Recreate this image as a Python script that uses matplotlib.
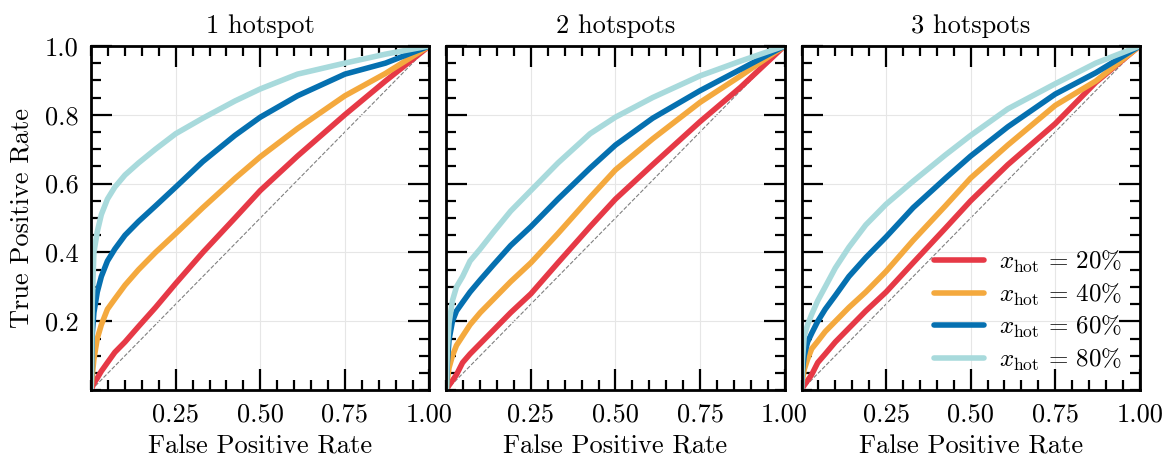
import matplotlib
matplotlib.use('Agg')
import matplotlib.pyplot as plt
from matplotlib.ticker import FixedLocator, MultipleLocator

plt.rcParams['font.family'] = ['cmr10', 'DejaVu Serif']
plt.rcParams['mathtext.fontset'] = 'cm'
plt.rcParams['axes.formatter.use_mathtext'] = True
plt.rcParams['font.size'] = 19

titles = ['1 hotspot', '2 hotspots', '3 hotspots']
labels = [r'$x_{\rm hot}\,=\,20\%$', r'$x_{\rm hot}\,=\,40\%$',
          r'$x_{\rm hot}\,=\,60\%$', r'$x_{\rm hot}\,=\,80\%$']
colors = ['#e63946', '#f4a93e', '#0570b0', '#a8dadc']

# false positive rate grid
fpr = [0.0, 0.003, 0.008, 0.018, 0.03, 0.048, 0.07, 0.1, 0.14, 0.19,
       0.25, 0.33, 0.425, 0.5, 0.61, 0.75, 0.87, 1.0]

# 1 hotspot
tpr1_20 = [0, 0.008, 0.02, 0.035, 0.055, 0.08, 0.11, 0.14, 0.185, 0.24,
           0.31, 0.40, 0.50, 0.58, 0.68, 0.80, 0.898, 1.0]
tpr1_40 = [0, 0.04, 0.09, 0.15, 0.19, 0.235, 0.265, 0.305, 0.35, 0.40,
           0.455, 0.53, 0.615, 0.678, 0.76, 0.855, 0.92, 1.0]
tpr1_60 = [0, 0.16, 0.225, 0.285, 0.33, 0.375, 0.41, 0.45, 0.49, 0.535,
           0.59, 0.664, 0.74, 0.793, 0.855, 0.918, 0.95, 1.0]
tpr1_80 = [0, 0.25, 0.40, 0.46, 0.51, 0.555, 0.59, 0.625, 0.66, 0.70,
           0.745, 0.79, 0.84, 0.875, 0.918, 0.95, 0.976, 1.0]

# 2 hotspots
tpr2_20 = [0, 0.006, 0.014, 0.028, 0.045, 0.08, 0.105, 0.135, 0.175, 0.225,
           0.28, 0.37, 0.475, 0.555, 0.655, 0.78, 0.88, 1.0]
tpr2_40 = [0, 0.03, 0.065, 0.1, 0.13, 0.157, 0.19, 0.225, 0.265, 0.315,
           0.37, 0.455, 0.56, 0.64, 0.73, 0.836, 0.913, 1.0]
tpr2_60 = [0, 0.08, 0.147, 0.20, 0.23, 0.255, 0.285, 0.32, 0.365, 0.42,
           0.475, 0.555, 0.645, 0.712, 0.79, 0.87, 0.932, 1.0]
tpr2_80 = [0, 0.12, 0.195, 0.26, 0.30, 0.33, 0.375, 0.41, 0.46, 0.52,
           0.58, 0.66, 0.745, 0.793, 0.85, 0.913, 0.956, 1.0]

# 3 hotspots
tpr3_20 = [0, 0.006, 0.014, 0.028, 0.045, 0.08, 0.105, 0.14, 0.18, 0.23,
           0.285, 0.37, 0.47, 0.55, 0.655, 0.774, 0.894, 1.0]
tpr3_40 = [0, 0.03, 0.06, 0.09, 0.12, 0.142, 0.17, 0.2, 0.24, 0.285,
           0.345, 0.435, 0.535, 0.616, 0.712, 0.827, 0.898, 1.0]
tpr3_60 = [0, 0.06, 0.1, 0.14, 0.165, 0.2, 0.235, 0.275, 0.33, 0.385,
           0.445, 0.53, 0.615, 0.68, 0.765, 0.86, 0.922, 1.0]
tpr3_80 = [0, 0.09, 0.157, 0.19, 0.22, 0.26, 0.30, 0.355, 0.415, 0.48,
           0.54, 0.607, 0.683, 0.74, 0.817, 0.89, 0.95, 1.0]

paneles = [
    [tpr1_20, tpr1_40, tpr1_60, tpr1_80],
    [tpr2_20, tpr2_40, tpr2_60, tpr2_80],
    [tpr3_20, tpr3_40, tpr3_60, tpr3_80],
]

fig, axes = plt.subplots(1, 3, figsize=(11.69, 4.59), dpi=100)
fig.subplots_adjust(left=0.078, right=0.975, bottom=0.15, top=0.9, wspace=0.05)

for i, ax in enumerate(axes):
    ax.plot([0, 1], [0, 1], ls='--', color='gray', lw=0.8, zorder=1)
    for curva, c, lab in zip(paneles[i], colors, labels):
        ax.plot(fpr, curva, color=c, lw=4.0, label=lab, solid_capstyle='round',
                solid_joinstyle='round', zorder=2)

    ax.set_xlim(0, 1)
    ax.set_ylim(0, 1)
    ax.set_title(titles[i], fontsize=19, pad=9)
    ax.set_xlabel('False Positive Rate', fontsize=19, labelpad=6)

    ax.xaxis.set_major_locator(FixedLocator([0.25, 0.5, 0.75, 1.0]))
    ax.set_xticklabels(['0.25', '0.50', '0.75', '1.00'])
    ax.yaxis.set_major_locator(FixedLocator([0.2, 0.4, 0.6, 0.8, 1.0]))
    ax.xaxis.set_minor_locator(MultipleLocator(0.05))
    ax.yaxis.set_minor_locator(MultipleLocator(0.05))
    if i == 0:
        ax.set_yticklabels(['0.2', '0.4', '0.6', '0.8', '1.0'])
        ax.set_ylabel('True Positive Rate', fontsize=19, labelpad=8)
    else:
        ax.set_yticklabels([])

    ax.tick_params(which='both', direction='in', top=True, right=True, labelsize=19)
    ax.tick_params(which='major', length=15, width=1.6, pad=9)
    ax.tick_params(which='minor', length=7, width=1.6)
    ax.grid(True, which='major', color='#e6e6e6', lw=0.8, zorder=0)
    for s in ax.spines.values():
        s.set_linewidth(2)

axes[2].legend(loc='lower right', frameon=False, fontsize=18, handlelength=2.0,
               borderaxespad=0.3, labelspacing=0.25, handletextpad=0.6)

plt.savefig('out.png')
